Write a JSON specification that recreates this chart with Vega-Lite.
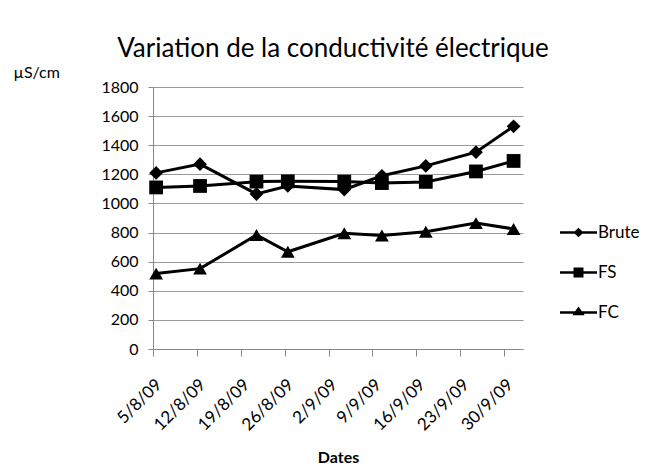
{
  "$schema": "https://vega.github.io/schema/vega-lite/v6.json",
  "autosize": "none",
  "width": 370,
  "height": 262,
  "padding": {"left": 153, "top": 87, "right": 123, "bottom": 123},
  "background": "white",
  "config": {
    "font": "Lato",
    "view": {"stroke": null}
  },
  "title": {
    "text": "Variation de la conductivité électrique",
    "fontSize": 26,
    "fontWeight": "normal",
    "color": "black",
    "anchor": "middle",
    "frame": "group",
    "dx": -5,
    "offset": 2
  },
  "data": {
    "values": [
      {"date": "2009-08-05T12:00:00", "series": "Brute", "value": 1210},
      {"date": "2009-08-12T12:00:00", "series": "Brute", "value": 1270},
      {"date": "2009-08-21T12:00:00", "series": "Brute", "value": 1065},
      {"date": "2009-08-26T12:00:00", "series": "Brute", "value": 1120},
      {"date": "2009-09-04T12:00:00", "series": "Brute", "value": 1095},
      {"date": "2009-09-10T12:00:00", "series": "Brute", "value": 1190},
      {"date": "2009-09-17T12:00:00", "series": "Brute", "value": 1258},
      {"date": "2009-09-25T12:00:00", "series": "Brute", "value": 1352},
      {"date": "2009-10-01T12:00:00", "series": "Brute", "value": 1530},
      {"date": "2009-08-05T12:00:00", "series": "FS", "value": 1110},
      {"date": "2009-08-12T12:00:00", "series": "FS", "value": 1120},
      {"date": "2009-08-21T12:00:00", "series": "FS", "value": 1150},
      {"date": "2009-08-26T12:00:00", "series": "FS", "value": 1152},
      {"date": "2009-09-04T12:00:00", "series": "FS", "value": 1150},
      {"date": "2009-09-10T12:00:00", "series": "FS", "value": 1140},
      {"date": "2009-09-17T12:00:00", "series": "FS", "value": 1148},
      {"date": "2009-09-25T12:00:00", "series": "FS", "value": 1220},
      {"date": "2009-10-01T12:00:00", "series": "FS", "value": 1292},
      {"date": "2009-08-05T12:00:00", "series": "FC", "value": 518},
      {"date": "2009-08-12T12:00:00", "series": "FC", "value": 552},
      {"date": "2009-08-21T12:00:00", "series": "FC", "value": 783},
      {"date": "2009-08-26T12:00:00", "series": "FC", "value": 668},
      {"date": "2009-09-04T12:00:00", "series": "FC", "value": 795},
      {"date": "2009-09-10T12:00:00", "series": "FC", "value": 780},
      {"date": "2009-09-17T12:00:00", "series": "FC", "value": 805},
      {"date": "2009-09-25T12:00:00", "series": "FC", "value": 865},
      {"date": "2009-10-01T12:00:00", "series": "FC", "value": 825}
    ]
  },
  "encoding": {
    "x": {
      "field": "date",
      "type": "temporal",
      "scale": {
        "domain": [
          {"year": 2009, "month": 8, "date": 5},
          {"year": 2009, "month": 10, "date": 3}
        ]
      },
      "axis": {
        "title": "Dates",
        "titleFontSize": 16,
        "titleFontWeight": "bold",
        "titleColor": "black",
        "titlePadding": 16,
        "values": [
          {"year": 2009, "month": 8, "date": 5},
          {"year": 2009, "month": 8, "date": 12},
          {"year": 2009, "month": 8, "date": 19},
          {"year": 2009, "month": 8, "date": 26},
          {"year": 2009, "month": 9, "date": 2},
          {"year": 2009, "month": 9, "date": 9},
          {"year": 2009, "month": 9, "date": 16},
          {"year": 2009, "month": 9, "date": 23},
          {"year": 2009, "month": 9, "date": 30}
        ],
        "format": "%-d/%-m/%y",
        "labelAngle": -45,
        "labelFontSize": 17,
        "labelColor": "black",
        "labelPadding": 20,
        "labelDx": 7,
        "grid": false,
        "tickSize": 7,
        "tickColor": "#888888",
        "domainColor": "#888888",
        "labelOverlap": false,
        "labelBound": false,
        "labelFlush": false
      }
    },
    "y": {
      "field": "value",
      "type": "quantitative",
      "scale": {"domain": [0, 1800], "nice": false, "zero": true},
      "axis": {
        "title": "µS/cm",
        "titleAngle": 0,
        "titleAlign": "left",
        "titleBaseline": "middle",
        "titleX": -140,
        "titleY": -15,
        "titleFontSize": 16,
        "titleFontWeight": "normal",
        "titleColor": "black",
        "values": [0, 200, 400, 600, 800, 1000, 1200, 1400, 1600, 1800],
        "format": "d",
        "labelFontSize": 16,
        "labelColor": "black",
        "labelPadding": 10,
        "tickSize": 5,
        "tickColor": "#888888",
        "domainColor": "#888888",
        "gridColor": "#999999",
        "gridWidth": 1
      }
    }
  },
  "resolve": {"scale": {"shape": "independent"}},
  "layer": [
    {
      "mark": {"type": "line", "color": "black", "strokeWidth": 3},
      "encoding": {"detail": {"field": "series"}}
    },
    {
      "mark": {"type": "point", "filled": true, "color": "black", "opacity": 1, "size": 190},
      "encoding": {
        "shape": {
          "field": "series",
          "type": "nominal",
          "scale": {"domain": ["Brute", "FS", "FC"], "range": ["diamond", "square", "triangle-up"]},
          "legend": null
        }
      }
    },
    {
      "mark": {"type": "point", "filled": true, "color": "black", "size": 0},
      "encoding": {
        "shape": {
          "field": "series",
          "type": "nominal",
          "scale": {
            "domain": ["Brute", "FS", "FC"],
            "range": [
              "M-1,-0.07H-0.2L0,-0.26L0.2,-0.07H1V0.07H0.2L0,0.26L-0.2,0.07H-1Z",
              "M-1,-0.07H-0.27V-0.27H0.27V-0.07H1V0.07H0.27V0.27H-0.27V0.07H-1Z",
              "M-1,-0.07H-0.18L0,-0.32L0.18,-0.07H1V0.07H0.28L0.33,0.15H-0.33L-0.28,0.07H-1Z"
            ]
          },
          "legend": {
            "title": null,
            "orient": "none",
            "legendX": 407,
            "legendY": 127,
            "symbolSize": 1369,
            "symbolFillColor": "black",
            "symbolStrokeColor": "black",
            "symbolStrokeWidth": 0,
            "symbolOpacity": 1,
            "labelFontSize": 17,
            "labelColor": "black",
            "labelOffset": 1,
            "rowPadding": 13
          }
        }
      }
    }
  ]
}
